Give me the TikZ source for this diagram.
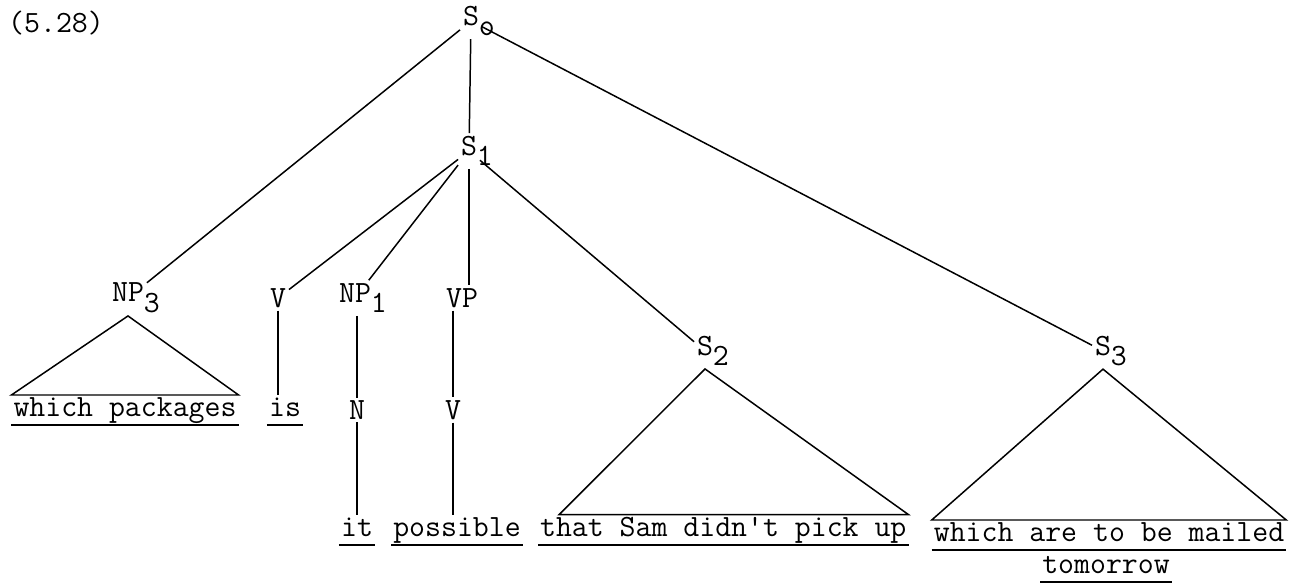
\documentclass[tikz,border=0pt]{standalone}
\usepackage{tikz}

\newcommand{\lsub}[1]{\rlap{\raisebox{-0.8ex}{#1}}}

\begin{document}
\begin{tikzpicture}[
        x=0.02cm, y=-0.02cm,
        font=\ttfamily\fontsize{17.6}{20}\selectfont,
        cat/.style={inner sep=1.5pt},
        edge/.style={line width=0.85pt},
        word/.style={inner sep=1pt, anchor=base,
                     execute at begin node={\vphantom{gp}},
                     append after command={(\tikzlastnode.south west)
                       edge[draw, line width=1pt] (\tikzlastnode.south east)}},
    ]
    \useasboundingbox (0,0) rectangle (1295,588);
    \node[cat] (num) at (56,23) {(5.28)};

    % --- kategorie ---
    \node[cat] (s0) at (471,21) {S\lsub{o}};
    \node[cat] (s1) at (469,151) {S\lsub{1}};
    \node[cat] (np3) at (128,298) {NP\lsub{3}};
    \node[cat] (v) at (278,298) {V};
    \node[cat] (np1) at (355,298) {NP\lsub{1}};
    \node[cat] (vp) at (462,298) {VP};
    \node[cat] (s2) at (705,351) {S\lsub{2}};
    \node[cat] (s3) at (1103,351) {S\lsub{3}};
    \node[cat] (n) at (357,410) {N};
    \node[cat] (v2) at (453,410) {V};

    % --- slowa ---
    \node[word] (wp) at (125,416) {which packages};
    \node[word] (is) at (285,416) {is};
    \node[word] (it) at (357,536) {it};
    \node[word] (poss) at (457,536) {possible};
    \node[word, anchor=base west] (sam) at (538,536) {that Sam didn't pick up};
    \node[word] (mail) at (1109,541) {which are to be mailed};
    \node[word] (tom) at (1106,573) {tomorrow};

    % --- krawedzie ---
    \draw[edge] (s0) -- (np3);
    \draw[edge] (s0) -- (s1);
    \draw[edge] (s0) -- (s3);
    \draw[edge] (s1) -- (v);
    \draw[edge] (s1) -- (np1);
    \draw[edge] (s1.south) -- (s1.south |- vp.north);
    \draw[edge] (s1) -- (s2);
    \draw[edge] (v) -- (v |- is.north);
    \draw[edge] (np1.south -| n) -- (n);
    \draw[edge] (n) -- (it);
    \draw[edge] (v2 |- vp.south) -- (v2);
    \draw[edge] (v2) -- (v2 |- poss.north);

    % --- trojkaty ---
    \draw[edge] (np3.south) -- (wp.north west) -- (wp.north east) -- cycle;
    \draw[edge] (s2.south) -- ([xshift=12]sam.north west) -- (sam.north east) -- cycle;
    \draw[edge] (s3.south) -- (mail.north west) -- (mail.north east) -- cycle;
\end{tikzpicture}
\end{document}
